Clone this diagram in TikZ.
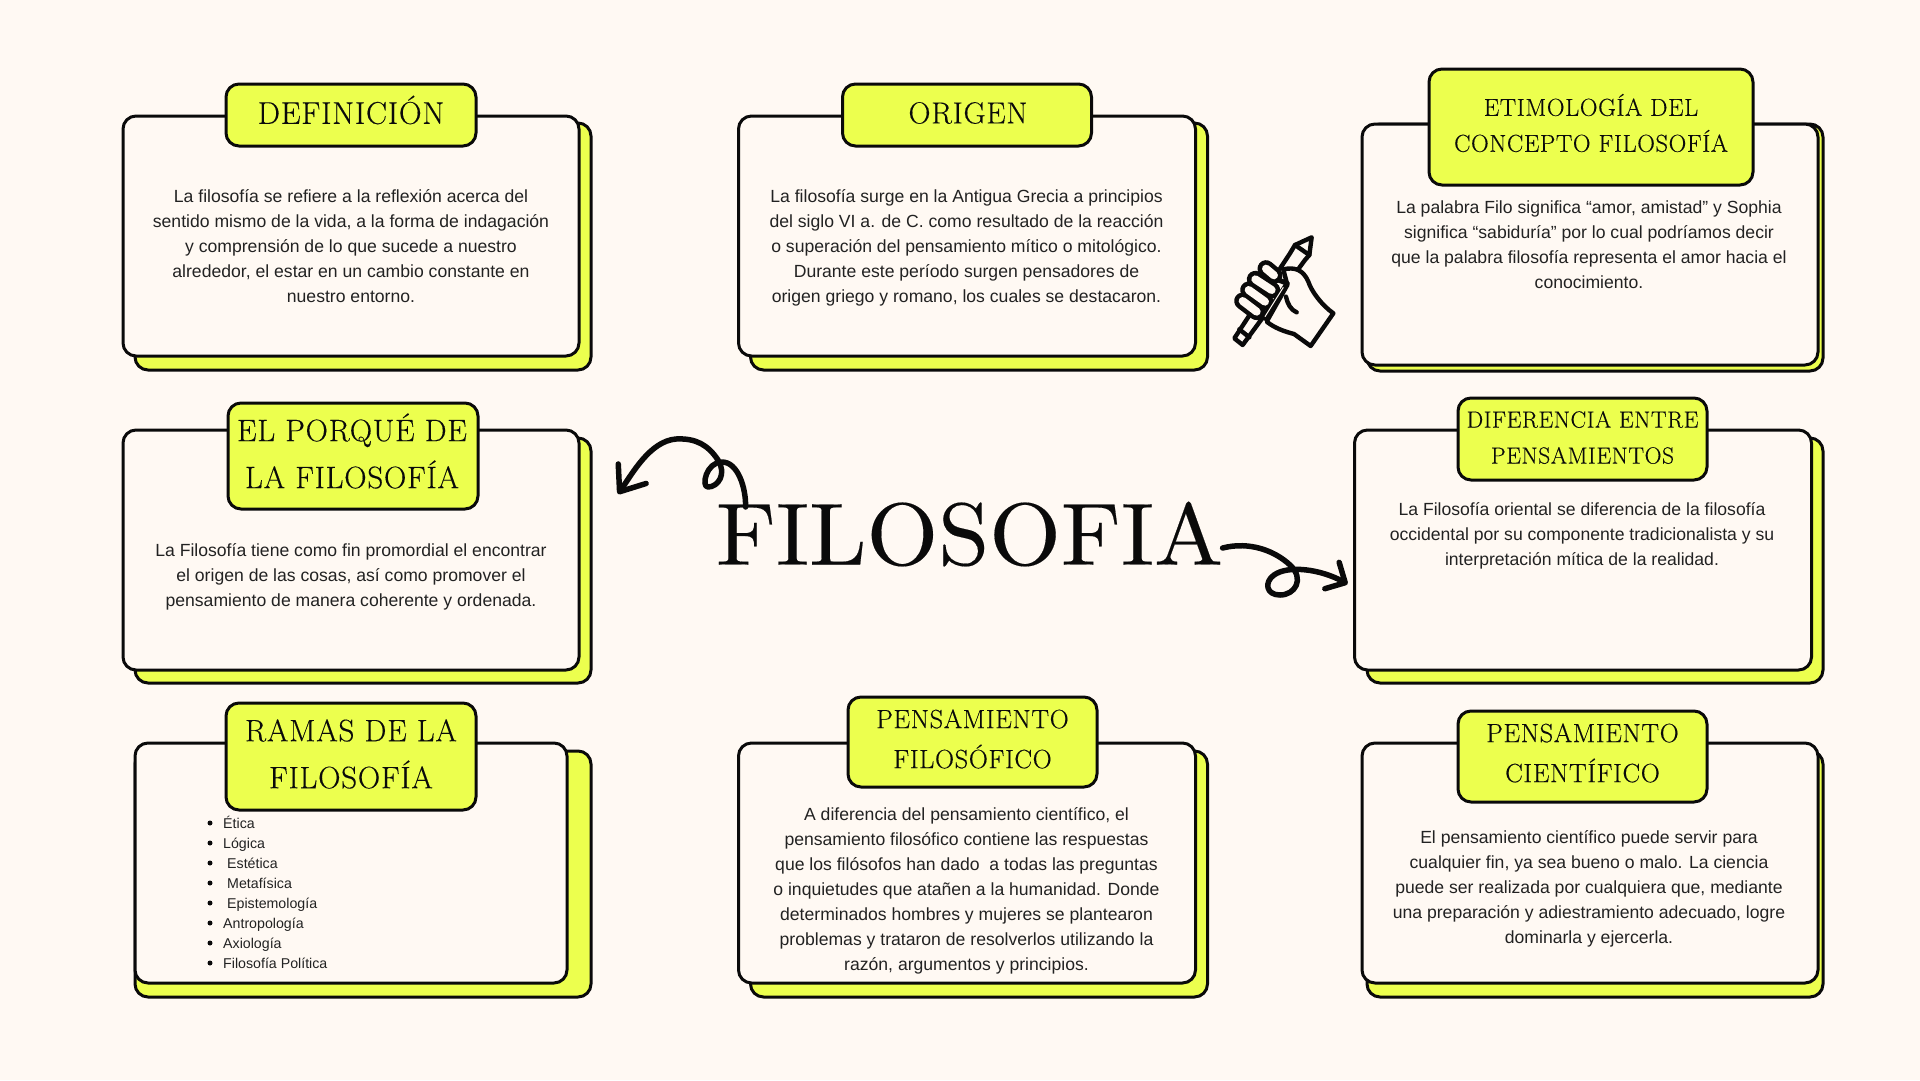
\documentclass[tikz,border=0pt]{standalone}
\usepackage{fontspec}
\usepackage{graphicx}
\usetikzlibrary{arrows.meta}
\setmainfont{Liberation Sans}
\newfontfamily\titlef[LetterSpace=2.5,FakeBold=0.3]{Latin Modern Roman}
\newfontfamily\bigf[FakeBold=0.2]{Latin Modern Roman}
\definecolor{pagebg}{HTML}{FFF9F3}
\definecolor{lime}{HTML}{ECFF4E}
\definecolor{ink}{HTML}{0A0A0A}
\tikzset{
  plate/.style={draw=ink,line width=3pt,rounded corners=13pt,inner sep=0pt,outer sep=0pt},
  shadowbox/.style={plate,fill=lime},
  whitebox/.style={plate,fill=pagebg},
  tabbox/.style={plate,fill=lime},
  tabtext/.style={align=center,text=ink,inner sep=0pt},
  bodytext/.style={align=center,text=ink!90,font=\fontsize{17.6pt}{25pt}\selectfont,inner sep=0pt},
  listtext/.style={anchor=west,text=ink!90,font=\fontsize{14.2pt}{17pt}\selectfont,inner sep=0pt,text height=11pt,text depth=3pt},
  dotmark/.style={circle,fill=ink,inner sep=0pt,minimum size=5pt},
  curlarrow/.style={draw=ink,line width=5.5pt,line cap=round,line join=round},
  iconline/.style={draw=ink,line width=4.4pt,line join=round,line cap=round}
}
\newcommand{\tfs}[2]{\titlef\fontsize{#1pt}{#2pt}\selectfont}
\begin{document}
\begin{tikzpicture}[x=1pt,y=-1pt]
\useasboundingbox (0,0) rectangle (1920,1080);
\fill[pagebg] (0,0) rectangle (1920,1080);
% box 1
\node[shadowbox,minimum width=456pt,minimum height=247pt] (s1) at (363,246.5) {};
\node[whitebox,minimum width=456pt,minimum height=240pt] (w1) at (351,236) {};
\node[tabbox,minimum width=250pt,minimum height=62pt] (t1) at (351,115) {};
\node[tabtext,font=\tfs{31.5}{47}] (h1) at (351,110) {DEFINICIÓN};
\node[bodytext] (x1) at (351,246) {La filosofía se refiere a la reflexión acerca del\\sentido mismo de la vida, a la forma de indagación\\y comprensión de lo que sucede a nuestro\\alrededor, el estar en un cambio constante en\\nuestro entorno.};
% box 2
\node[shadowbox,minimum width=457pt,minimum height=247pt] (s2) at (979,246.5) {};
\node[whitebox,minimum width=457pt,minimum height=240pt] (w2) at (967,236) {};
\node[tabbox,minimum width=249pt,minimum height=62pt] (t2) at (967,115) {};
\node[tabtext,font=\tfs{30.5}{47}] (h2) at (968,113) {ORIGEN};
\node[bodytext] (x2) at (966.5,248) {La filosofía surge en la Antigua Grecia a principios\\del siglo VI a. de C. como resultado de la reacción\\o superación del pensamiento mítico o mitológico.\\Durante este período surgen pensadores de\\origen griego y romano, los cuales se destacaron.};
% box 3
\node[shadowbox,minimum width=456pt,minimum height=247pt] (s3) at (1595,247.5) {};
\node[whitebox,minimum width=456pt,minimum height=241pt] (w3) at (1590,244.5) {};
\node[tabbox,minimum width=324pt,minimum height=116pt] (t3) at (1591,127) {};
\node[tabtext,font=\tfs{24.5}{36}] (h3) at (1591,123) {ETIMOLOGÍA DEL\\CONCEPTO FILOSOFÍA};
\node[bodytext] (x3) at (1589,245) {La palabra Filo significa “amor, amistad” y Sophia\\significa “sabiduría” por lo cual podríamos decir\\que la palabra filosofía representa el amor hacia el\\conocimiento.};
% box 4
\node[shadowbox,minimum width=456pt,minimum height=245pt] (s4) at (363,560.5) {};
\node[whitebox,minimum width=456pt,minimum height=240pt] (w4) at (351,550) {};
\node[tabbox,minimum width=250pt,minimum height=106pt] (t4) at (353,456) {};
\node[tabtext,font=\tfs{31}{47}] (h4) at (352,451) {EL PORQUÉ DE\\LA FILOSOFÍA};
\node[bodytext] (x4) at (351,577) {La Filosofía tiene como fin promordial el encontrar\\el origen de las cosas, así como promover el\\pensamiento de manera coherente y ordenada.};
% box 5
\node[shadowbox,minimum width=456pt,minimum height=245pt] (s5) at (1595,560.5) {};
\node[whitebox,minimum width=457pt,minimum height=240pt] (w5) at (1583,550) {};
\node[tabbox,minimum width=249pt,minimum height=82pt] (t5) at (1582.5,439) {};
\node[tabtext,font=\tfs{23.4}{36}] (h5) at (1582.5,437.5) {DIFERENCIA ENTRE\\PENSAMIENTOS};
\node[bodytext] (x5) at (1582,535.5) {La Filosofía oriental se diferencia de la filosofía\\occidental por su componente tradicionalista y su\\interpretación mítica de la realidad.};
% box 6
\node[shadowbox,minimum width=456pt,minimum height=246pt] (s6) at (363,874) {};
\node[whitebox,minimum width=432pt,minimum height=240pt] (w6) at (351,863) {};
\node[tabbox,minimum width=250pt,minimum height=107pt] (t6) at (351,756.5) {};
\node[tabtext,font=\tfs{31}{47}] (h6) at (351,754) {RAMAS DE LA\\FILOSOFÍA};
\node[dotmark] (d1) at (210,823) {}; \node[listtext] (l1) at (223,824) {Ética};
\node[dotmark] (d2) at (210,843) {}; \node[listtext] (l2) at (223,844) {Lógica};
\node[dotmark] (d3) at (210,863) {}; \node[listtext] (l3) at (227,864) {Estética};
\node[dotmark] (d4) at (210,883) {}; \node[listtext] (l4) at (227,884) {Metafísica};
\node[dotmark] (d5) at (210,903) {}; \node[listtext] (l5) at (227,904) {Epistemología};
\node[dotmark] (d6) at (210,923) {}; \node[listtext] (l6) at (223,924) {Antropología};
\node[dotmark] (d7) at (210,943) {}; \node[listtext] (l7) at (223,944) {Axiología};
\node[dotmark] (d8) at (210,963) {}; \node[listtext] (l8) at (223,964) {Filosofía Política};
% box 7
\node[shadowbox,minimum width=457pt,minimum height=246pt] (s7) at (979,874) {};
\node[whitebox,minimum width=457pt,minimum height=240pt] (w7) at (967,863) {};
\node[tabbox,minimum width=249pt,minimum height=90pt] (t7) at (972.5,742) {};
\node[tabtext,font=\tfs{26.4}{40}] (h7) at (972.5,739) {PENSAMIENTO\\FILOSÓFICO};
\node[bodytext] (x7) at (966.5,891) {A diferencia del pensamiento científico, el\\pensamiento filosófico contiene las respuestas\\que los filósofos han dado\ \ a todas las preguntas\\o inquietudes que atañen a la humanidad. Donde\\determinados hombres y mujeres se plantearon\\problemas y trataron de resolverlos utilizando la\\razón, argumentos y principios.};
% box 8
\node[shadowbox,minimum width=456pt,minimum height=246pt] (s8) at (1595,874) {};
\node[whitebox,minimum width=456pt,minimum height=240pt] (w8) at (1590,863) {};
\node[tabbox,minimum width=249pt,minimum height=91pt] (t8) at (1582.5,756.5) {};
\node[tabtext,font=\tfs{26.4}{40}] (h8) at (1582.5,753) {PENSAMIENTO\\CIENTÍFICO};
\node[bodytext] (x8) at (1589,889) {El pensamiento científico puede servir para\\cualquier fin, ya sea bueno o malo. La ciencia\\puede ser realizada por cualquiera que, mediante\\una preparación y adiestramiento adecuado, logre\\dominarla y ejercerla.};
% central title
\node[inner sep=0pt,text=ink] (main) at (969.5,534) {\resizebox{507pt}{63pt}{\bigf FILOSOFIA}};
% curly arrows
\coordinate (la) at (745.6,507);
\coordinate (lb) at (618,494);
\coordinate (ra) at (1222.6,548);
\coordinate (rb) at (1347.6,584);
\draw[curlarrow,-{Straight Barb[length=22pt,width=34pt,round]}] (la)
  .. controls (746,488) and (738,462) .. (722,462)
  .. controls (706,462) and (701,487) .. (708,487)
  .. controls (718,487) and (727,474) .. (718,460)
  .. controls (708,445) and (696,438) .. (676,439)
  .. controls (650,441) and (632,474) .. (lb);
\draw[curlarrow,-{Straight Barb[length=15pt,width=30pt,round]}] (ra)
  .. controls (1250,541) and (1275,551) .. (1290,565)
  .. controls (1305,579) and (1295,595) .. (1280,595)
  .. controls (1266,595) and (1264,582) .. (1274,575)
  .. controls (1288,565) and (1320,569) .. (rb);
% pencil and hand icon
\begin{scope}[shift={(1200,200)},x=0.3333pt,y=-0.3333pt]
\draw[iconline,fill=pagebg] (103,415) -- (128,435) -- (315,180) -- (328,165) -- (335,112) -- (285,135) -- (270,160) -- cycle;
\draw[iconline] (285,135) -- (328,165);
\draw[iconline] (118,388) -- (148,412);
\draw[iconline,fill=pagebg] (250,208) .. controls (285,200) and (310,210) .. (325,245)
  .. controls (335,275) and (365,315) .. (400,340) -- (332,438) -- (282,402)
  .. controls (255,395) and (225,385) .. (200,365) -- (262,255) -- cycle;
\draw[iconline] (258,290) .. controls (262,310) and (272,330) .. (290,337);
\draw[line width=17pt,draw=ink,line cap=round] (198,206) -- (222,226);
\draw[line width=17pt,draw=ink,line cap=round] (166,238) -- (215,270);
\draw[line width=17pt,draw=ink,line cap=round] (146,270) -- (195,305);
\draw[line width=17pt,draw=ink,line cap=round] (128,303) -- (170,335);
\draw[line width=8pt,draw=pagebg,line cap=round] (198,206) -- (222,226);
\draw[line width=8pt,draw=pagebg,line cap=round] (166,238) -- (215,270);
\draw[line width=8pt,draw=pagebg,line cap=round] (146,270) -- (195,305);
\draw[line width=8pt,draw=pagebg,line cap=round] (128,303) -- (170,335);
\draw[iconline,line width=5pt] (195,355) -- (262,250) -- (235,240);
\draw[draw=pagebg,line width=1pt] (195,350) -- (250,262);
\end{scope}
\end{tikzpicture}
\end{document}
